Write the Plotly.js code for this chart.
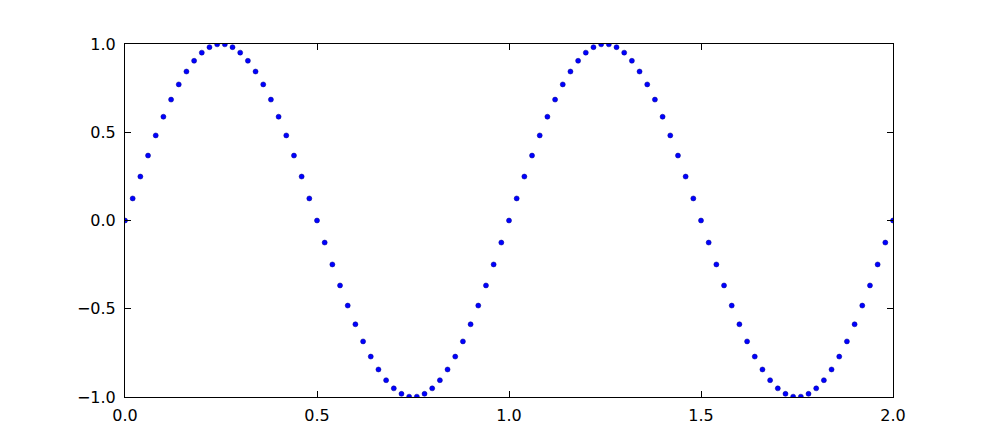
<!DOCTYPE html>
<html>
<head>
<meta charset="utf-8">
<script src="https://cdn.plot.ly/plotly-3.0.1.min.js"></script>
<style>html,body{margin:0;padding:0;background:#fff;}#chart{width:992px;height:441px;}</style>
</head>
<body>
<div id="chart"></div>
<script>
const xValues = [
  0.00, 0.02, 0.04, 0.06, 0.08, 0.10, 0.12, 0.14, 0.16, 0.18,
  0.20, 0.22, 0.24, 0.26, 0.28, 0.30, 0.32, 0.34, 0.36, 0.38,
  0.40, 0.42, 0.44, 0.46, 0.48, 0.50, 0.52, 0.54, 0.56, 0.58,
  0.60, 0.62, 0.64, 0.66, 0.68, 0.70, 0.72, 0.74, 0.76, 0.78,
  0.80, 0.82, 0.84, 0.86, 0.88, 0.90, 0.92, 0.94, 0.96, 0.98,
  1.00, 1.02, 1.04, 1.06, 1.08, 1.10, 1.12, 1.14, 1.16, 1.18,
  1.20, 1.22, 1.24, 1.26, 1.28, 1.30, 1.32, 1.34, 1.36, 1.38,
  1.40, 1.42, 1.44, 1.46, 1.48, 1.50, 1.52, 1.54, 1.56, 1.58,
  1.60, 1.62, 1.64, 1.66, 1.68, 1.70, 1.72, 1.74, 1.76, 1.78,
  1.80, 1.82, 1.84, 1.86, 1.88, 1.90, 1.92, 1.94, 1.96, 1.98,
  2.00
];
const yValues = [
  0.000, 0.125, 0.249, 0.368, 0.482, 0.588, 0.685, 0.771, 0.844, 0.905,
  0.951, 0.982, 0.998, 0.998, 0.982, 0.951, 0.905, 0.844, 0.771, 0.685,
  0.588, 0.482, 0.368, 0.249, 0.125, 0.000, -0.125, -0.249, -0.368, -0.482,
  -0.588, -0.685, -0.771, -0.844, -0.905, -0.951, -0.982, -0.998, -0.998, -0.982,
  -0.951, -0.905, -0.844, -0.771, -0.685, -0.588, -0.482, -0.368, -0.249, -0.125,
  0.000, 0.125, 0.249, 0.368, 0.482, 0.588, 0.685, 0.771, 0.844, 0.905,
  0.951, 0.982, 0.998, 0.998, 0.982, 0.951, 0.905, 0.844, 0.771, 0.685,
  0.588, 0.482, 0.368, 0.249, 0.125, 0.000, -0.125, -0.249, -0.368, -0.482,
  -0.588, -0.685, -0.771, -0.844, -0.905, -0.951, -0.982, -0.998, -0.998, -0.982,
  -0.951, -0.905, -0.844, -0.771, -0.685, -0.588, -0.482, -0.368, -0.249, -0.125,
  0.000
];
const xTicks = [0.0, 0.5, 1.0, 1.5, 2.0];
const xTickLabels = ["0.0", "0.5", "1.0", "1.5", "2.0"];
const yTicks = [-1.0, -0.5, 0.0, 0.5, 1.0];
const yTickLabels = ["\u22121.0", "\u22120.5", "0.0", "0.5", "1.0"];

const axisCommon = {
  showgrid: false,
  zeroline: false,
  showline: true,
  linecolor: '#000',
  linewidth: 1,
  mirror: 'allticks',
  ticks: 'inside',
  ticklen: 6,
  tickwidth: 1,
  tickcolor: '#000',
  tickfont: {family: 'DejaVu Sans', size: 16, color: '#000'}
};

const data = [{
  type: 'scatter',
  mode: 'markers',
  x: xValues,
  y: yValues,
  marker: {color: '#0000ff', size: 5, line: {color: '#00008b', width: 0.5}},
  cliponaxis: true,
  hoverinfo: 'skip'
}];

const layout = {
  width: 992,
  height: 441,
  margin: {l: 125, r: 99, t: 44, b: 44, pad: 0},
  paper_bgcolor: '#fff',
  plot_bgcolor: '#fff',
  showlegend: false,
  xaxis: Object.assign({}, axisCommon, {
    range: [0, 2],
    tickmode: 'array',
    tickvals: xTicks,
    ticktext: xTickLabels,
    ticklabelstandoff: 4
  }),
  yaxis: Object.assign({}, axisCommon, {
    range: [-1, 1],
    tickmode: 'array',
    tickvals: yTicks,
    ticktext: yTickLabels,
    ticklabelstandoff: 5
  })
};

Plotly.newPlot('chart', data, layout, {displayModeBar: false, staticPlot: true});
</script>
</body>
</html>
